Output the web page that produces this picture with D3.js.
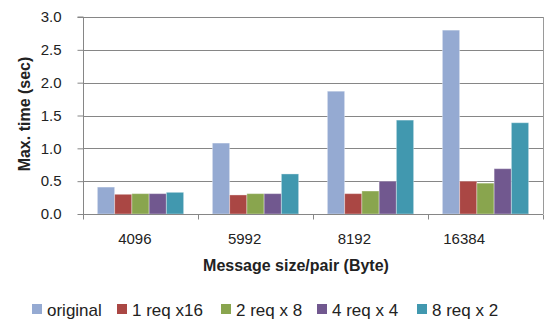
<!DOCTYPE html>
<html><head><meta charset="utf-8">
<script src="https://cdn.jsdelivr.net/npm/d3@7"></script>
<style>
html,body{margin:0;padding:0;background:#fff;}
text{font-family:"Liberation Sans",Arial,sans-serif;}
</style></head>
<body><svg id="c" width="546" height="324"></svg>
<script>
const categories = ["4096","5992","8192","16384"];
const seriesNames = ["original","1 req x16","2 req x 8","4 req x 4","8 req x 2"];
const original = [0.41, 1.08, 1.87, 2.80];
const req1x16 = [0.30, 0.29, 0.31, 0.50];
const req2x8  = [0.31, 0.31, 0.35, 0.47];
const req4x4  = [0.31, 0.31, 0.50, 0.69];
const req8x2  = [0.33, 0.61, 1.43, 1.39];
const yTicks = [0,0.5,1.0,1.5,2.0,2.5,3.0];
const colors = ["#95AAD2","#AA4744","#89A54E","#71588F","#4198AF"];
const series = [original, req1x16, req2x8, req4x4, req8x2];

const svg = d3.select("#c");
const L=83, R=543, T=17, B=214;
const x0 = d3.scaleBand().domain(categories).range([L,R]).paddingInner(0.25).paddingOuter(0.125);
const xEdge = d3.scaleBand().domain(categories).range([L,R]);
const x1 = d3.scaleBand().domain(seriesNames).range([0,x0.bandwidth()]);
const y = d3.scaleLinear().domain([0,3]).range([B,T]);
const xLab = d3.scaleBand().domain(categories).range([80,519]);

// gridlines
svg.append("g").selectAll("line").data(yTicks).join("line")
  .attr("x1",L).attr("x2",R).attr("y1",d=>Math.round(y(d))+0.5).attr("y2",d=>Math.round(y(d))+0.5)
  .attr("stroke","#868686").attr("stroke-width",1);
// right border
svg.append("line").attr("x1",R+0.5).attr("x2",R+0.5).attr("y1",T).attr("y2",B).attr("stroke","#9a9a9a");

// bars
const g = svg.append("g");
categories.forEach((c,ci)=>{
  seriesNames.forEach((s,si)=>{
    const v = series[si][ci];
    g.append("rect").attr("x",x0(c)+x1(s)).attr("y",y(v)).attr("width",x1.bandwidth())
     .attr("height",y(0)-y(v)).attr("fill",colors[si])
     .attr("stroke","rgba(255,255,255,0.35)").attr("stroke-width",1);
  });
});

// y axis
const ya = svg.append("g").attr("transform",`translate(${L+0.5},0)`)
  .call(d3.axisLeft(y).tickValues(yTicks).tickFormat(d3.format(".1f")).tickSize(6).tickPadding(16));
ya.select(".domain").attr("stroke","#868686").attr("d",`M-6,${T}H0V${B+5}`);
ya.selectAll(".tick line").attr("stroke","#868686");
ya.selectAll("text").attr("font-size",15).attr("fill","#222").attr("font-family","Liberation Sans, Arial");

// x axis
const xa = svg.append("g").attr("transform",`translate(0,${Math.round(B)+0.5})`);
xa.append("line").attr("x1",L).attr("x2",R).attr("stroke","#868686");
xa.selectAll("line.t").data(categories.concat(["end"])).join("line").attr("class","t")
  .attr("x1",(d,i)=>Math.round(i<categories.length?xEdge(d):R)+0.5)
  .attr("x2",(d,i)=>Math.round(i<categories.length?xEdge(d):R)+0.5)
  .attr("y1",0).attr("y2",5).attr("stroke","#868686");
xa.selectAll("text").data(categories).join("text")
  .attr("x",d=>xLab(d)+xLab.bandwidth()/2).attr("y",29).attr("text-anchor","middle")
  .attr("font-size",15).attr("fill","#222").text(d=>d);

// titles
svg.append("text").attr("x",296).attr("y",271).attr("text-anchor","middle")
  .attr("font-size",16).attr("font-weight","bold").attr("fill","#222").text("Message size/pair (Byte)");
svg.append("text").attr("transform","translate(30,114) rotate(-90)").attr("text-anchor","middle")
  .attr("font-size",16).attr("font-weight","bold").attr("fill","#222").text("Max. time (sec)");

// legend
const legX = [32,117,221,317,417];
const lg = svg.append("g");
seriesNames.forEach((s,i)=>{
  lg.append("rect").attr("x",legX[i]).attr("y",304).attr("width",10).attr("height",10).attr("fill",colors[i]);
  lg.append("text").attr("x",legX[i]+15).attr("y",315.5).attr("font-size",17).attr("fill","#222").text(s);
});
</script></body></html>
